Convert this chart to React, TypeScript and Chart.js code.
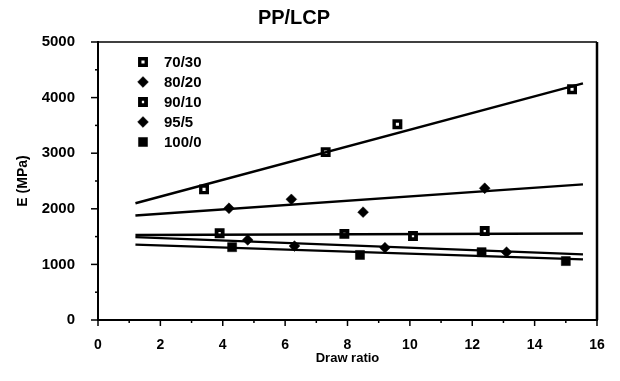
import React, { useEffect, useRef } from 'react';
import { Chart, registerables } from 'chart.js';
import * as helpers from 'chart.js/helpers';

Chart.register(...registerables);

const chartTitle = 'PP/LCP';
const xTitle = 'Draw ratio';
const yTitle = 'E (MPa)';
const seriesLabels = ['70/30', '80/20', '90/10', '95/5', '100/0'];

const x7030 = [3.4, 7.3, 9.6, 15.2];
const y7030 = [2350, 3020, 3520, 4150];
const x8020 = [4.2, 6.2, 8.5, 12.4];
const y8020 = [2010, 2170, 1940, 2370];
const x9010 = [3.9, 7.9, 10.1, 12.4];
const y9010 = [1560, 1550, 1510, 1600];
const x955 = [4.8, 6.3, 9.2, 13.1];
const y955 = [1440, 1330, 1300, 1220];
const x1000 = [4.3, 8.4, 12.3, 15.0];
const y1000 = [1310, 1170, 1220, 1060];

const fitX = [1.2, 15.55];
const fit7030 = [2100, 4255];
const fit8020 = [1880, 2440];
const fit9010 = [1530, 1555];
const fit955 = [1490, 1180];
const fit1000 = [1355, 1090];

const FONT = "'Liberation Sans', Arial, Helvetica, sans-serif";

const pts = (xs: number[], ys: number[]) => xs.map((x, i) => ({ x, y: ys[i] }));

const markerStyles = [
  { pointStyle: 'rect', radius: 4.6, borderWidth: 3.4, backgroundColor: '#fff' },
  { pointStyle: 'rectRot', radius: 5.4, borderWidth: 0.5, backgroundColor: '#000' },
  { pointStyle: 'rect', radius: 4.3, borderWidth: 3.8, backgroundColor: '#fff' },
  { pointStyle: 'rectRot', radius: 5.4, borderWidth: 0.5, backgroundColor: '#000' },
  { pointStyle: 'rect', radius: 6.4, borderWidth: 0.5, backgroundColor: '#000' },
];

const decorPlugin = {
  id: 'decor',
  afterDraw(chart: any) {
    const { ctx, chartArea: a, scales } = chart;
    const xs = scales.x;
    const ys = scales.y;
    ctx.save();
    ctx.strokeStyle = '#000';
    ctx.lineCap = 'butt';
    // frame
    ctx.lineWidth = 1.5;
    ctx.beginPath();
    ctx.moveTo(a.left, a.top);
    ctx.lineTo(a.right, a.top);
    ctx.stroke();
    ctx.lineWidth = 2.5;
    ctx.beginPath();
    ctx.moveTo(a.right, a.top);
    ctx.lineTo(a.right, a.bottom);
    ctx.stroke();
    ctx.lineWidth = 2;
    ctx.beginPath();
    ctx.moveTo(a.left, a.top - 1);
    ctx.lineTo(a.left, a.bottom);
    ctx.lineTo(a.right + 1, a.bottom);
    ctx.stroke();
    // ticks
    ctx.lineWidth = 1.5;
    for (let v = 0; v <= 16; v++) {
      const px = xs.getPixelForValue(v);
      const len = v % 2 === 0 ? 6 : 3;
      ctx.beginPath();
      ctx.moveTo(px, a.bottom);
      ctx.lineTo(px, a.bottom + len);
      ctx.stroke();
    }
    for (let v = 0; v <= 5000; v += 500) {
      const py = ys.getPixelForValue(v);
      const len = v % 1000 === 0 ? 7 : 3;
      ctx.beginPath();
      ctx.moveTo(a.left - len, py);
      ctx.lineTo(a.left, py);
      ctx.stroke();
    }
    // title
    ctx.fillStyle = '#000';
    ctx.font = `bold 20px ${FONT}`;
    ctx.textAlign = 'center';
    ctx.textBaseline = 'middle';
    ctx.fillText(chartTitle, 294, 18);
    // legend
    const lx = a.left + 45;
    const ly = a.top + 20;
    ctx.font = `bold 15px ${FONT}`;
    ctx.textAlign = 'left';
    seriesLabels.forEach((label, i) => {
      const y = ly + i * 20;
      const m = markerStyles[i];
      ctx.fillStyle = m.backgroundColor;
      ctx.strokeStyle = '#000';
      ctx.lineWidth = m.borderWidth;
      helpers.drawPoint(ctx, { pointStyle: m.pointStyle, radius: m.radius, rotation: 0, borderWidth: m.borderWidth }, lx, y);
      ctx.fillStyle = '#000';
      ctx.fillText(label, lx + 21, y + 1);
    });
    ctx.restore();
  },
};

export default function App() {
  const ref = useRef<HTMLCanvasElement>(null);
  useEffect(() => {
    if (!ref.current) return;
    const pointSets = [
      pts(x7030, y7030),
      pts(x8020, y8020),
      pts(x9010, y9010),
      pts(x955, y955),
      pts(x1000, y1000),
    ];
    const fits = [fit7030, fit8020, fit9010, fit955, fit1000];
    const fitSets = fits.map((f, i) => ({
      label: seriesLabels[i] + ' fit',
      data: pts(fitX, f),
      showLine: true,
      borderColor: '#000',
      borderWidth: 2.4,
      pointRadius: 0,
      fill: false,
    }));
    const scatterSets = pointSets.map((d, i) => ({
      label: seriesLabels[i],
      data: d,
      showLine: false,
      pointStyle: markerStyles[i].pointStyle,
      pointRadius: markerStyles[i].radius,
      pointBorderWidth: markerStyles[i].borderWidth,
      pointBackgroundColor: markerStyles[i].backgroundColor,
      pointBorderColor: '#000',
    }));
    const chart = new Chart(ref.current, {
      type: 'scatter',
      data: { datasets: [...fitSets, ...scatterSets] as any },
      options: {
        animation: false,
        responsive: false,
        layout: { padding: { top: 42, right: 23, left: 0, bottom: 0 } },
        plugins: {
          legend: { display: false },
          title: { display: false },
          tooltip: { enabled: false },
        },
        scales: {
          x: {
            type: 'linear',
            min: 0,
            max: 16,
            grid: { display: false },
            border: { display: false },
            ticks: {
              stepSize: 2,
              color: '#000',
              padding: 9,
              font: { family: FONT, size: 14, weight: 'bold' },
              callback: (v: any) => String(v),
            },
            title: {
              display: true,
              text: xTitle,
              color: '#000',
              font: { family: FONT, size: 13, weight: 'bold' },
              padding: { top: 0, bottom: 15 },
            },
            afterFit: (s: any) => { s.height = 61; },
          },
          y: {
            type: 'linear',
            min: 0,
            max: 5000,
            grid: { display: false },
            border: { display: false },
            ticks: {
              stepSize: 1000,
              color: '#000',
              padding: 15,
              font: { family: FONT, size: 15, weight: 'bold' },
              callback: (v: any) => String(v),
            },
            title: {
              display: true,
              text: yTitle,
              color: '#000',
              font: { family: FONT, size: 14, weight: 'bold' },
              padding: { top: 15, bottom: 0 },
            },
            afterFit: (s: any) => { s.width = 98; },
          },
        },
      } as any,
      plugins: [decorPlugin],
    });
    return () => chart.destroy();
  }, []);
  return (
    <div style={{ position: 'fixed', left: 0, top: 0, width: 620, height: 381, background: '#fff' }}>
      <canvas ref={ref} width={620} height={381} style={{ display: 'block' }} />
    </div>
  );
}
